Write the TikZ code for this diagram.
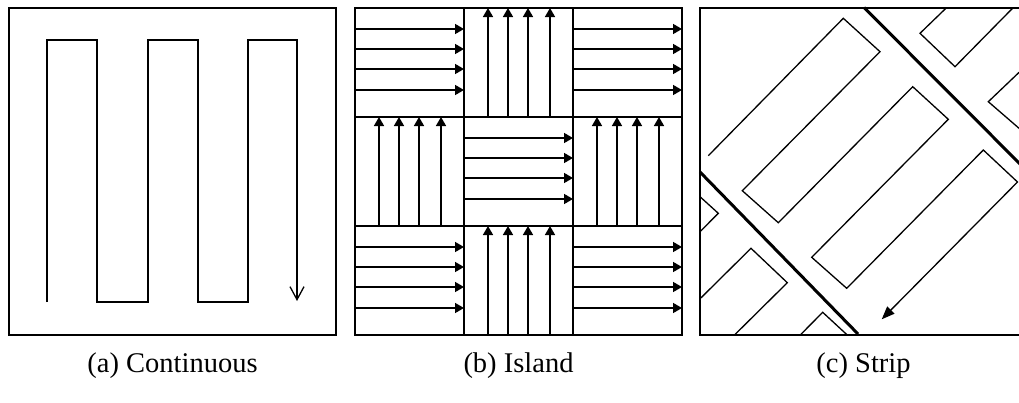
\documentclass[tikz,border=0pt]{standalone}
\usepackage{fontspec}
\setmainfont{Liberation Serif}
\usetikzlibrary{arrows.meta}
\begin{document}
\begin{tikzpicture}[x=1pt,y=-1pt,
  frame/.style={line width=2pt},
  cellline/.style={line width=2.4pt},
  scan/.style={line width=1.3pt, line join=miter},
  barrow/.style={line width=1.5pt, -{Triangle[length=9pt,width=10pt]}},
  stripline/.style={line width=3pt},
  caption/.style={anchor=base, font=\fontsize{28.5}{34}\selectfont}
]
\useasboundingbox (0,0) rectangle (1019,402);

% ---------- (a) continuous scan ----------
\draw[frame] (9,7.5) rectangle (336,334.5);
\draw[scan,-{Straight Barb[length=13pt,width=14pt]}]
  (47,302) -- (47,40) -- (97,40) -- (97,302) -- (148,302) -- (148,40)
  -- (198,40) -- (198,302) -- (248,302) -- (248,40) -- (297,40) -- (297,301);

% ---------- (b) island scan ----------
% cells scanned left to right
\foreach \c/\r in {0/0,2/0,1/1,0/2,2/2}
  \foreach \d in {21,41,61,82}
    \draw[barrow] ({355+109*\c},{8+109*\r+\d}) -- ({355+109*(\c+1)},{8+109*\r+\d});
% cells scanned bottom to top
\foreach \c/\r in {1/0,0/1,2/1,1/2}
  \foreach \d in {24,44,64,86}
    \draw[barrow] ({355+109*\c+\d},{8+109*(\r+1)}) -- ({355+109*\c+\d},{8+109*\r});
\draw[cellline] (355,8) rectangle (682,335);
\draw[cellline] (464,8) -- (464,335) (573,8) -- (573,335)
                (355,117) -- (682,117) (355,226) -- (682,226);

% ---------- (c) strip scan ----------
\begin{scope}
  \clip (697,0) rectangle (1019,340);
  \draw[frame] (700,7.5) rectangle (1027,334.5);
  % strip boundaries
  \draw[stripline] (864,7.5) -- (1030,174);
  \draw[stripline] (700,172) -- (858,334);
  % upper strip
  \draw[scan] (946.7,7.5) -- (920,33.3) -- (955,66.7) -- (1013.3,7.5);
  \draw[scan] (1021,70.5) -- (988.3,101.7) -- (1021,130);
  % middle strip
  \draw[scan,-{Triangle[length=13pt,width=10pt]}]
    (708.3,155.7) -- (843.3,18.3) -- (880,51.7) -- (742.3,190.7)
    -- (778.3,222.7) -- (912.7,86.7) -- (948.3,119.3) -- (811.7,257.3)
    -- (846.7,288.3) -- (983.3,150) -- (1017.5,182) -- (881.7,319.3);
  % lower strip
  \draw[scan] (700,196.7) -- (718.3,213.3) -- (700,231.7);
  \draw[scan] (700,298.8) -- (751,248.3) -- (787.3,282.7) -- (735,334.5);
  \draw[scan] (800.7,334.5) -- (822.7,312.3) -- (846.7,334.5);
\end{scope}

% ---------- captions ----------
\node[caption] (capa) at (172.5,372) {(a) Continuous};
\node[caption] (capb) at (518.5,372) {(b) Island};
\node[caption] (capc) at (863.5,372) {(c) Strip};
\end{tikzpicture}
\end{document}
